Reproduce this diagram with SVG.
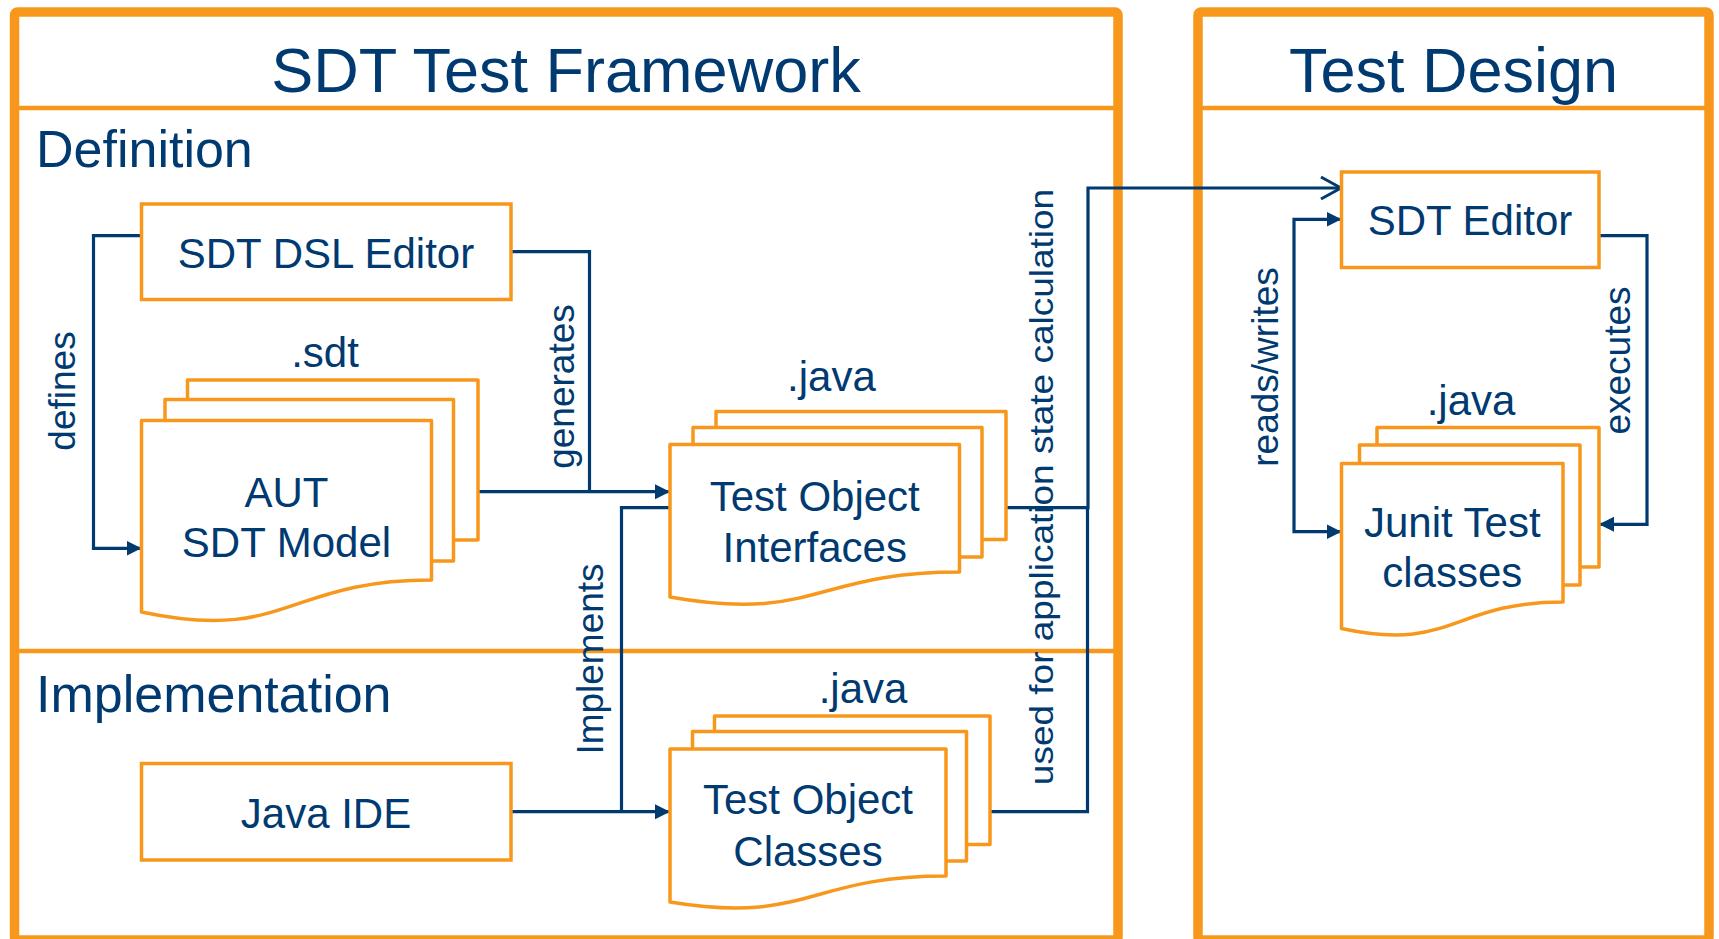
<svg xmlns="http://www.w3.org/2000/svg" width="1719" height="939" viewBox="0 0 1719 939">
<defs>
<style>
.frame{fill:none;stroke:#F7981D;stroke-width:9.5;stroke-linejoin:round}
.div{fill:none;stroke:#F7981D;stroke-width:4.5}
.box{fill:#fff;stroke:#F7981D;stroke-width:3.5}
.page{fill:#fff;stroke:#F7981D;stroke-width:3.5;stroke-linejoin:round}
.t{font-family:"Liberation Sans",Arial,sans-serif;fill:#003A70}
.title{font-size:63px;text-anchor:middle}
.sec{font-size:52px}
.node{font-size:42px;text-anchor:middle}
.lbl{font-size:37px;text-anchor:middle}
.con{fill:none;stroke:#003A70;stroke-width:3.2}
</style>
<marker id="arr" markerUnits="userSpaceOnUse" markerWidth="16" markerHeight="16" refX="15" refY="8" orient="auto-start-reverse" viewBox="0 0 16 16">
<path d="M0,0.5 L15,8 L0,15.5 Z" fill="#003A70"/>
</marker>
<marker id="open" markerUnits="userSpaceOnUse" markerWidth="24" markerHeight="26" refX="21" refY="13" orient="auto" viewBox="0 0 24 26">
<path d="M1,2 L21,13 L1,24" fill="none" stroke="#003A70" stroke-width="3"/>
</marker>
</defs>
<rect width="1719" height="939" fill="#fff"/>

<g id="panel-framework">
<rect class="frame" x="14.5" y="12" width="1103.5" height="928" rx="3"/>
<line class="div" x1="14.5" y1="108" x2="1118" y2="108"/>
<line class="div" x1="14.5" y1="651" x2="1118" y2="651"/>
<text class="t title" x="566" y="92">SDT Test Framework</text>
<text class="t sec" x="36" y="167">Definition</text>
<text class="t sec" x="36" y="712">Implementation</text>
</g>

<g id="panel-design">
<rect class="frame" x="1198" y="12" width="511" height="928" rx="3"/>
<line class="div" x1="1198" y1="108" x2="1709" y2="108"/>
<text class="t title" x="1453.5" y="92">Test Design</text>
</g>

<g id="connectors">
<path class="con" d="M141.5,235.7 H93.5 V548.3 H141.5" marker-end="url(#arr)"/>
<path class="con" d="M511,251.7 H589.5 V491.7"/>
<path class="con" d="M478,491.7 H670" marker-end="url(#arr)"/>
<path class="con" d="M511,811.7 H670" marker-end="url(#arr)"/>
<path class="con" d="M621.5,811.7 V507.7 H670"/>
<path class="con" d="M990,811.7 H1087.5 V507.7"/>
<path class="con" d="M1006,507.7 H1088 V188 H1341" marker-end="url(#open)"/>
<path class="con" d="M1341.5,219.3 H1294 V531.7 H1341.5" marker-start="url(#arr)" marker-end="url(#arr)"/>
<path class="con" d="M1599,235.7 H1647 V524.3 H1599" marker-end="url(#arr)"/>
<text class="t lbl" transform="translate(75,391) rotate(-90)">defines</text>
<text class="t lbl" transform="translate(574,386.5) rotate(-90)">generates</text>
<text class="t lbl" transform="translate(603,659) rotate(-90)">Implements</text>
<text class="t lbl" transform="translate(1053,487) rotate(-90) scale(1,0.88)">used for application state calculation</text>
<text class="t lbl" transform="translate(1278,367) rotate(-90)">reads/writes</text>
<text class="t lbl" transform="translate(1630,360.5) rotate(-90)">executes</text>
</g>

<g id="sdt-dsl-editor">
<rect class="box" x="141.5" y="204" width="369.5" height="95.5"/>
<text class="t node" x="326" y="267.7">SDT DSL Editor</text>
</g>

<g id="aut-sdt-model">
<text class="t node" x="325" y="366.7">.sdt</text>
<rect class="page" x="187.5" y="380" width="290.5" height="160"/>
<rect class="page" x="165" y="399.5" width="288.5" height="161.5"/>
<path class="page" d="M141.5,420.5 H431.5 V580 C286.5,580 286.5,643 141.5,612 Z"/>
<text class="t node" x="286.5" y="506.7">AUT</text>
<text class="t node" x="286.5" y="557">SDT Model</text>
</g>

<g id="test-object-interfaces">
<text class="t node" x="831.4" y="390.7">.java</text>
<rect class="page" x="716" y="411.5" width="290" height="128"/>
<rect class="page" x="693" y="427.5" width="289" height="129.5"/>
<path class="page" d="M670,444.5 H959.5 V572 C814.75,572 814.75,622.9 670,597 Z"/>
<text class="t node" x="814.75" y="510.7">Test Object</text>
<text class="t node" x="814.75" y="561.7">Interfaces</text>
</g>

<g id="java-ide">
<rect class="box" x="141.5" y="763.5" width="369.5" height="96.5"/>
<text class="t node" x="326" y="828.3">Java IDE</text>
</g>

<g id="test-object-classes">
<text class="t node" x="863" y="703.3">.java</text>
<rect class="page" x="714.5" y="716" width="275.5" height="128.5"/>
<rect class="page" x="692.5" y="731.5" width="274" height="129.5"/>
<path class="page" d="M670,749 H946 V876 C808,876 808,924.7 670,902 Z"/>
<text class="t node" x="808" y="814.3">Test Object</text>
<text class="t node" x="808" y="866">Classes</text>
</g>

<g id="sdt-editor">
<rect class="box" x="1341.5" y="172" width="257.5" height="95.5"/>
<text class="t node" x="1470" y="235">SDT Editor</text>
</g>

<g id="junit-test-classes">
<text class="t node" x="1471" y="415">.java</text>
<rect class="page" x="1377" y="427.5" width="222" height="139.5"/>
<rect class="page" x="1359.5" y="445" width="220.5" height="140"/>
<path class="page" d="M1341.5,463.5 H1563 V602 C1452.25,602 1452.25,652.6 1341.5,628.5 Z"/>
<text class="t node" x="1452.3" y="536.7">Junit Test</text>
<text class="t node" x="1452.3" y="587.3">classes</text>
</g>
</svg>
